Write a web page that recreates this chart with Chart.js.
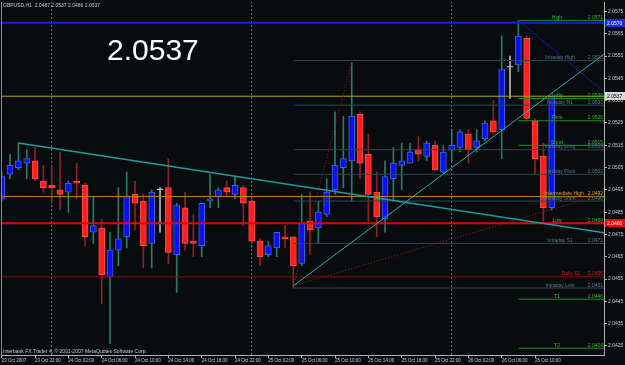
<!DOCTYPE html>
<html><head><meta charset="utf-8">
<style>html,body{margin:0;padding:0;background:#090c0f;overflow:hidden}canvas{display:block}</style>
<script src="https://cdn.jsdelivr.net/npm/chart.js@4.4.1/dist/chart.umd.min.js"></script>
</head><body>
<canvas id="c" width="625" height="365"></canvas>
<script>
// ---------- DATA ----------
const symbolHeader = 'GBPUSD,H1  2.0487 2.0537 2.0486 2.0537';
const bigPrice = '2.0537';
const copyright = 'Interbank FX Trader 4, \u00A9 2001-2007 MetaQuotes Software Corp.';

// hourly bars, index 0 = 23 Oct 18:00 ... index 66 = 26 Oct 12:00
const opens  = [2.0491,2.0502,2.0505,2.0507,2.0508,2.0499,2.0497,2.0495,2.0494,2.0499,2.0497,2.0476,2.0478,2.0456,2.0468,2.0474,2.0493,2.0490,2.0471,2.0495,2.0496,2.0466,2.0487,2.0472,2.0470,2.0490,2.0492,2.0496,2.0493,2.0496,2.0490,2.0472,2.0466,2.0469,2.0474,2.0474,2.0462,2.0481,2.0478,2.0484,2.0495,2.0505,2.0508,2.0529,2.0511,2.0494,2.0482,2.0500,2.0506,2.0507,2.0513,2.0510,2.0515,2.0503,2.0513,2.0514,2.0520,2.0514,2.0518,2.0526,2.0522,2.0550,2.0551,2.0563,2.0526,2.0510,2.0487];
const highs  = [2.0503,2.0511,2.0516,2.0513,2.0514,2.0506,2.0506,2.0512,2.0499,2.0507,2.0498,2.0492,2.0482,2.0476,2.0496,2.0503,2.0499,2.0493,2.0495,2.0496,2.0509,2.0489,2.0494,2.0484,2.0489,2.0502,2.0496,2.0499,2.0501,2.0497,2.0491,2.0473,2.0472,2.0476,2.0479,2.0474,2.0493,2.0494,2.0490,2.0500,2.0530,2.0528,2.0552,2.0530,2.0520,2.0503,2.0508,2.0514,2.0516,2.0516,2.0519,2.0517,2.0517,2.0515,2.0522,2.0522,2.0522,2.0522,2.0526,2.0535,2.0564,2.0555,2.0571,2.0564,2.0527,2.0516,2.0537];
const lows   = [2.0490,2.0500,2.0504,2.0500,2.0499,2.0494,2.0489,2.0486,2.0485,2.0491,2.0470,2.0471,2.0444,2.0426,2.0461,2.0469,2.0477,2.0460,2.0460,2.0476,2.0462,2.0449,2.0468,2.0465,2.0465,2.0487,2.0487,2.0492,2.0491,2.0479,2.0471,2.0461,2.0465,2.0465,2.0469,2.0451,2.0461,2.0466,2.0471,2.0483,2.0493,2.0496,2.0490,2.0500,2.0480,2.0474,2.0476,2.0490,2.0495,2.0507,2.0508,2.0508,2.0504,2.0502,2.0508,2.0512,2.0507,2.0512,2.0517,2.0520,2.0509,2.0536,2.0548,2.0526,2.0502,2.0480,2.0486];
const closes = [2.0501,2.0506,2.0508,2.0509,2.0500,2.0496,2.0496,2.0493,2.0498,2.0498,2.0474,2.0479,2.0457,2.0468,2.0473,2.0492,2.0489,2.0470,2.0494,2.0495,2.0467,2.0488,2.0471,2.0471,2.0489,2.0491,2.0495,2.0494,2.0497,2.0489,2.0472,2.0465,2.0470,2.0476,2.0473,2.0461,2.0480,2.0477,2.0485,2.0494,2.0506,2.0509,2.0528,2.0507,2.0493,2.0483,2.0501,2.0507,2.0508,2.0512,2.0511,2.0516,2.0504,2.0512,2.0515,2.0521,2.0513,2.0517,2.0525,2.0521,2.0549,2.0550,2.0564,2.0527,2.0509,2.0487,2.0537];

const timeTickIdx = [0,4,8,12,16,20,24,28,32,36,40,44,48,52,56,60,64];
const timeLabels = ['23 Oct 2007','23 Oct 22:00','24 Oct 02:00','24 Oct 06:00','24 Oct 10:00','24 Oct 14:00','24 Oct 18:00','24 Oct 22:00','25 Oct 02:00','25 Oct 06:00','25 Oct 10:00','25 Oct 14:00','25 Oct 18:00','25 Oct 22:00','26 Oct 02:00','26 Oct 06:00','26 Oct 10:00'];
const priceTicks = [2.0425,2.0435,2.0445,2.0455,2.0465,2.0475,2.0485,2.0495,2.0505,2.0515,2.0525,2.0535,2.0545,2.0555,2.0565,2.0575];
const separatorIdx = [6,30,54];

// level sets
const greenNames  = ['High','Long','Pivot','Short','Low','T1','T2'];
const greenValues = [2.0571,2.0536,2.0526,2.0515,2.0480,2.0446,2.0424];
const greenStartIdx = 62;
const grayNames  = ['Intraday High','Intraday R1','Intraday Long','Intraday Pivot','Intraday Short','Intraday S1','Intraday Low'];
const grayValues = [2.0553,2.0533,2.0513,2.0502,2.0490,2.0471,2.0451];
const grayStartIdx = 35;
const intermediateHighName = 'Intermediate High';
const intermediateHighValue = 2.0492;
const dailyS1Name = 'Daily S1';
const dailyS1Value = 2.0456;
const blueLineValue = 2.0570;
const bidValue = 2.0537;
const redLineValue = 2.0480;

// trend lines [x indices], [prices]
const trendDownX = [2, 72.3],  trendDownY = [2.0516, 2.04758];
const trendUpX   = [35, 72.3], trendUpY   = [2.0452, 2.05559];
const fanSteepX  = [35, 42],   fanSteepY  = [2.0452, 2.0552];
const fanFlatX   = [35, 72.3], fanFlatY   = [2.0452, 2.04932];
const navyX      = [62, 72.3], navyY      = [2.0571, 2.0539];

// ---------- SCALE RANGES ----------
const X_MIN = -0.084, X_MAX = 72.276;
const Y_MIN = 2.042096, Y_MAX = 2.057926;

const BG = '#090c0f';
const FONT = "'Liberation Sans', Arial, sans-serif";
const UP_BODY = '#0a10f0', UP_EDGE = '#3a62d8', UP_WICK = '#2c7a66';
const DN_BODY = '#ff1e1e', DN_EDGE = '#ff4a4a', DN_WICK = '#8e2222';
const DOJI = '#b8b8b8';

const kind = opens.map((o,i)=> closes[i]>o ? 1 : (closes[i]<o ? -1 : 0));
const bodyFill = kind.map(k=> k>0?UP_BODY:(k<0?DN_BODY:DOJI));
const bodyEdge = kind.map(k=> k>0?UP_EDGE:(k<0?DN_EDGE:DOJI));
const wickCol  = kind.map(k=> k>0?UP_WICK:(k<0?DN_WICK:DOJI));

const datasets = [];
separatorIdx.forEach(s=>datasets.push({type:'line', data:[{x:s,y:Y_MIN},{x:s,y:Y_MAX}], borderColor:'#7c7c7c', borderWidth:1, borderDash:[2,2], pointRadius:0, order:40}));
datasets.push({type:'bar', data: lows.map((l,i)=>({x:i, y:[l, highs[i]]})), backgroundColor: wickCol, barThickness:1, grouped:false, order:31});
datasets.push({type:'bar', data: opens.map((o,i)=>({x:i, y:[o, closes[i]]})), backgroundColor: bodyFill, borderColor: bodyEdge, borderWidth:1, borderSkipped:false, minBarLength:1, barThickness:6, grouped:false, order:30});

function hline(v, startIdx, color, width, order){
  datasets.push({type:'line', data:[{x:startIdx,y:v},{x:X_MAX,y:v}], borderColor:color, borderWidth:width, pointRadius:0, order:order});
}
grayValues.forEach(v=>hline(v, grayStartIdx, '#2c4752', 1, 12));
greenValues.forEach(v=>hline(v, greenStartIdx, '#1f8f1f', 1, 11));
hline(bidValue, X_MIN, '#a8a41c', 1, 10);
hline(intermediateHighValue, X_MIN, '#b8860b', 1, 9);
hline(dailyS1Value, X_MIN, '#8b0a0a', 1, 9);
hline(redLineValue, X_MIN, '#e80000', 2, 8);
hline(blueLineValue, X_MIN, '#1a1ae0', 2, 8);

function tline(xs, ys, color, width, dash, order){
  datasets.push({type:'line', data: xs.map((x,i)=>({x:x, y:ys[i]})), borderColor:color, borderWidth:width, borderDash:dash, pointRadius:0, order:order});
}
tline(trendDownX, trendDownY, '#1f9c9c', 1.5, [], 5);
tline(trendUpX, trendUpY, '#22b0aa', 1, [], 5);
tline(fanSteepX, fanSteepY, '#b01212', 1, [1,2], 5);
tline(fanFlatX, fanFlatY, '#b81616', 1, [1,2], 5);
tline(navyX, navyY, '#1414a0', 1, [], 5);

const overlay = {
  id:'overlay',
  beforeDraw(chart){
    const c = chart.ctx; c.save(); c.fillStyle = BG; c.fillRect(0,0,chart.width,chart.height); c.restore();
  },
  afterDraw(chart){
    const c = chart.ctx, a = chart.chartArea, y = chart.scales.y;
    c.save();
    c.strokeStyle = '#8a8a8a'; c.lineWidth = 1;
    c.beginPath(); c.moveTo(a.left+0.5, a.top); c.lineTo(a.left+0.5, a.bottom); c.stroke();
    c.font = '5px ' + FONT; c.textBaseline = 'alphabetic';
    const lvl = (name, v, color, cx) => {
      const py = y.getPixelForValue(v);
      c.fillStyle = color;
      c.textAlign = 'center'; c.fillText(name, cx, py - 1.5);
      c.textAlign = 'right'; c.fillText(v.toFixed(4), a.right - 1, py - 1.5);
    };
    grayNames.forEach((n,i)=>lvl(n, grayValues[i], '#587888', 560));
    lvl(intermediateHighName, intermediateHighValue, '#d9a21c', 564);
    lvl(dailyS1Name, dailyS1Value, '#c42020', 571);
    greenNames.forEach((n,i)=>lvl(n, greenValues[i], '#35b535', 557));
    const box = (v, bg, fg) => {
      const py = y.getPixelForValue(v);
      c.fillStyle = bg; c.fillRect(a.right+1, Math.round(py)-4, 20, 8);
      c.fillStyle = fg; c.textAlign = 'left'; c.textBaseline = 'middle';
      c.fillText(v.toFixed(4), a.right+3, py+0.5);
    };
    box(blueLineValue, '#1a2ee0', '#ffffff');
    box(bidValue, '#d8d8d8', '#000000');
    box(redLineValue, '#ff0000', '#ffffff');
    c.fillStyle = '#c8c8c8'; c.textAlign = 'left'; c.textBaseline = 'middle';
    c.fillText(symbolHeader, 3, 6);
    c.fillText(copyright, 3, 352);
    c.font = '30px ' + FONT; c.fillStyle = '#ffffff'; c.textBaseline = 'alphabetic';
    c.fillText(bigPrice, 107, 59.5);
    c.restore();
  }
};

new Chart(document.getElementById('c'), {
  type:'bar',
  data:{datasets},
  options:{
    responsive:false, animation:false, devicePixelRatio:1,
    layout:{padding:{left:1, top:2, right:0, bottom:0}},
    plugins:{legend:{display:false}, tooltip:{enabled:false}},
    scales:{
      x:{type:'linear', min:X_MIN, max:X_MAX, offset:false,
         grid:{display:true, drawOnChartArea:false, drawTicks:true, tickLength:3, color:'#b0b0b0', offset:false},
         border:{display:true, color:'#b0b0b0'},
         ticks:{autoSkip:false, maxRotation:0, minRotation:0, align:'start', padding:0, color:'#c8c8c8', font:{family:FONT, size:4.5},
                callback:(v,i)=>timeLabels[i]},
         afterBuildTicks:s=>{ s.ticks = timeTickIdx.map(v=>({value:v})); },
         afterFit:s=>{ s.height = 10; s.paddingLeft = 0; s.paddingRight = 0; }
      },
      y:{type:'linear', position:'right', min:Y_MIN, max:Y_MAX,
         grid:{display:true, drawOnChartArea:false, drawTicks:true, tickLength:3, color:'#b0b0b0'},
         border:{display:true, color:'#b0b0b0'},
         ticks:{padding:1, color:'#c8c8c8', font:{family:FONT, size:5}, callback:v=>Number(v).toFixed(4)},
         afterBuildTicks:s=>{ s.ticks = priceTicks.map(v=>({value:v})); },
         afterFit:s=>{ s.width = 21; s.paddingTop = 0; s.paddingBottom = 0; }
      }
    }
  },
  plugins:[overlay]
});
</script>
</body></html>
